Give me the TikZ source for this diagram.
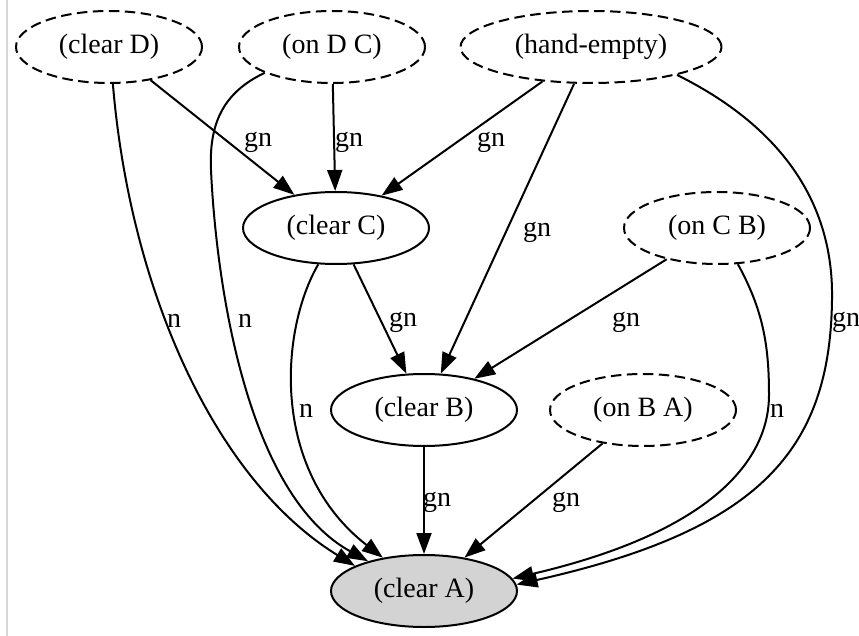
\documentclass[tikz,border=0pt]{standalone}
\usepackage{fontspec}
\setmainfont{Liberation Serif}
\usetikzlibrary{shapes.geometric,arrows.meta}
\definecolor{goalgray}{RGB}{211,211,211}
\definecolor{edgegray}{RGB}{215,215,215}
\begin{document}
\begin{tikzpicture}[x=1pt,y=-1pt,
  every node/.style={font=\fontsize{28}{34}\selectfont},
  state/.style={ellipse, draw, line width=2pt, minimum width=186pt, minimum height=72pt, inner sep=0pt},
  dstate/.style={state, dash pattern=on 10.5pt off 5.5pt},
  goal/.style={state, fill=goalgray},
  edge/.style={line width=2pt, -{Triangle[length=21pt,width=15pt]}},
  lbl/.style={inner sep=0pt}]
\useasboundingbox (0,0) rectangle (859,636);
\draw[edgegray, line width=1.2pt] (7,0) -- (7,636);

% nodes
\node[dstate] (cD) at (109,47) {(clear D)};
\node[dstate] (oDC) at (332,47) {(on D C)};
\node[dstate, minimum width=261pt] (he) at (591,47) {(hand-empty)};
\node[state] (cC) at (336,228) {(clear C)};
\node[dstate] (oCB) at (717,228) {(on C B)};
\node[state] (cB) at (424,410) {(clear B)};
\node[dstate] (oBA) at (643,410) {(on B A)};
\node[goal] (cA) at (424,591) {(clear A)};

% straight edges
\draw[edge] (cD) -- (cC);
\draw[edge] (oDC) -- (cC);
\draw[edge] (he) -- (cC);
\draw[edge] (he) -- (cB);
\draw[edge] (cC) -- (cB);
\draw[edge] (oCB) -- (cB);
\draw[edge] (cB) -- (cA);
\draw[edge] (oBA) -- (cA);

% curved edges
\coordinate (m1) at (211,170);
\coordinate (m2) at (832,300);
\coordinate (m3) at (769,395);
\draw[edge] (cD.-84) .. controls (130,290) and (215,480) .. (cA.160);
\draw[edge] (oDC.201) .. controls (222,93) and (209,125) .. (m1)
  .. controls (215,260) and (240,490) .. (cA.152);
\draw[edge] (cC.244) .. controls (280,330) and (270,470) .. (cA.141);
\draw[edge] (he.-18) .. controls (778,125) and (834,200) .. (m2)
  .. controls (830,450) and (760,530) .. (cA.4);
\draw[edge] (oCB.-60) .. controls (763,310) and (769,345) .. (m3)
  .. controls (769,455) and (720,530) .. (cA.8);

% labels
\node[lbl] (l1) at (258,142) {gn};
\node[lbl] (l2) at (349,142) {gn};
\node[lbl] (l3) at (491,142) {gn};
\node[lbl] (l4) at (537,232) {gn};
\node[lbl] (l5) at (846,322) {gn};
\node[lbl] (l6) at (174,321) {n};
\node[lbl] (l7) at (245,321) {n};
\node[lbl] (l8) at (403,322) {gn};
\node[lbl] (l9) at (626,322) {gn};
\node[lbl] (l10) at (306,411) {n};
\node[lbl] (l11) at (777,411) {n};
\node[lbl] (l12) at (437,502) {gn};
\node[lbl] (l13) at (566,502) {gn};
\end{tikzpicture}
\end{document}
